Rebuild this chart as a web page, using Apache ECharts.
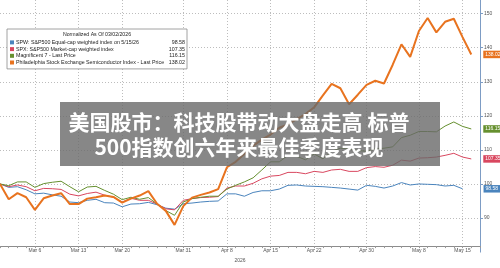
<!DOCTYPE html>
<html>
<head>
<meta charset="utf-8">
<script src="https://cdn.jsdelivr.net/npm/echarts@6/dist/echarts.min.js"></script>
<style>html,body{margin:0;padding:0;background:#fff}#c{width:500px;height:268px}</style>
</head>
<body>
<div id="c"></div>
<script>
// Trading days (index 55 is an empty pad slot up to the right axis)
const categories = [
  'Mar 2','Mar 3','Mar 4','Mar 5','Mar 6','Mar 9','Mar 10','Mar 11','Mar 12','Mar 13',
  'Mar 16','Mar 17','Mar 18','Mar 19','Mar 20','Mar 23','Mar 24','Mar 25','Mar 26','Mar 27',
  'Mar 30','Mar 31','Apr 1','Apr 2','Apr 6','Apr 7','Apr 8','Apr 9','Apr 10','Apr 13',
  'Apr 14','Apr 15','Apr 16','Apr 17','Apr 20','Apr 21','Apr 22','Apr 23','Apr 24','Apr 27',
  'Apr 28','Apr 29','Apr 30','May 1','May 4','May 5','May 6','May 7','May 8','May 11',
  'May 12','May 13','May 14','May 15','May 18',''
];
const tickLabels = ['Mar 6','Mar 13','Mar 20','Mar 31','Apr 8','Apr 15','Apr 22','Apr 30','May 8','May 15'];
const yTicks = [90,100,110,120,130,140,150];

const seriesNames = [
  'SPW: S&P500 Equal-cap weighted index on 5/15/26',
  'SPX: S&P500 Market-cap weighted index',
  'Magnificent 7 - Last Price',
  'Philadelphia Stock Exchange Semiconductor Index - Last Price'
];
const equalWeight = [100,99.0,99.2,98.3,97.1,97.3,96.8,96.4,94.7,94.5,
  95.2,95.5,94.5,94.4,93.3,94.1,94.2,94.6,93.9,92.9,
  92.6,94.2,94.4,94.7,94.9,95.0,97.1,97.1,96.4,97.5,
  98.0,98.0,98.5,99.6,99.7,99.4,99.3,99.2,99.0,98.8,
  98.5,98.2,99.6,99.3,98.8,99.4,100.4,99.7,100.0,99.9,
  99.8,99.4,99.6,98.58];
const spx = [100,99.2,99.7,99.2,98.0,98.7,98.6,98.4,97.0,96.5,
  97.2,97.6,96.7,96.1,94.7,95.8,95.2,95.2,94.1,92.7,
  92.4,95.2,95.7,96.0,96.1,96.3,98.8,99.4,99.4,100.2,
  101.5,102.3,102.5,103.4,103.4,103.0,103.7,103.4,104.1,104.3,
  103.7,103.7,104.8,105.1,104.9,105.5,107.0,106.7,107.6,107.7,
  107.9,108.4,109.0,107.9,107.35];
const mag7 = [100,99.5,100.6,100.6,99.0,100.1,100.5,100.8,99.2,97.7,
  99.1,99.3,98.1,97.0,95.4,96.1,95.5,96.0,94.1,92.2,
  90.8,94.7,95.7,96.1,96.4,96.4,98.5,99.6,100.6,101.8,
  104.1,106.5,106.5,108.4,108.1,107.1,108.8,107.4,109.6,110.5,
  110.3,109.8,109.6,110.3,110.5,110.9,113.6,114.3,115.4,115.4,
  115.3,117.0,118.2,116.9,116.15];
const sox = [100,95.5,97.3,96.1,92.4,95.8,96.6,97.3,94.1,94.1,
  95.7,96.1,96.6,96.2,94.5,95.7,96.6,97.9,94.2,92.1,
  88.0,93.5,96.0,96.8,97.5,98.5,104.9,106.5,108.8,111.2,
  113.0,114.5,116.5,117.5,119.0,120.5,122.5,126.0,129.4,128.1,
  123.4,126.2,129.1,130.3,129.5,135.0,141.0,137.3,144.9,148.7,
  144.5,147.6,148.5,143.1,138.02];
const seriesData = [equalWeight, spx, mag7, sox];
const colors = ['#4a84bd', '#d9475f', '#66902f', '#e8731f'];
const widths = [1, 1, 1, 2];
const tagDistance = [21, 12, 12, 12];

const legendTitle = 'Normalized As Of 03/02/2026';
const overlayLines = ['美国股市：科技股带动大盘走高 标普', '500指数创六年来最佳季度表现'];

const lastVal = arr => arr[arr.length - 1];
const FONT = '"Liberation Sans", Arial, sans-serif';

const chart = echarts.init(document.getElementById('c'), null, {renderer: 'canvas'});
chart.setOption({
  animation: false,
  backgroundColor: '#fff',
  grid: {left: 0, right: 20, top: 0, bottom: 6, containLabel: false},
  title: {
    text: legendTitle, left: 97, top: 32, textAlign: 'center', z: 20, padding: 0,
    textStyle: {fontSize: 5.2, fontWeight: 'normal', color: '#222', fontFamily: FONT}
  },
  legend: {
    show: true, orient: 'vertical', left: 7, top: 29, z: 10,
    selectedMode: false,
    backgroundColor: '#fff', borderColor: '#8a8a8a', borderWidth: 0.8,
    padding: [10.5, 2, 3.5, 3],
    itemWidth: 4, itemHeight: 4, itemGap: 0.9, icon: 'rect',
    data: seriesNames,
    formatter: function (name) {
      const i = seriesNames.indexOf(name);
      return '{n|' + name + '}{v|' + lastVal(seriesData[i]).toFixed(2) + '}';
    },
    textStyle: {
      fontFamily: FONT, fontSize: 5.3, color: '#222', padding: [0, 0, 0, -3],
      rich: {
        n: {fontSize: 5.3, width: 151, height: 5.8, lineHeight: 5.8, fontFamily: FONT, color: '#222'},
        v: {fontSize: 5.3, width: 18, height: 5.8, align: 'right', lineHeight: 5.8, fontFamily: FONT, color: '#222'}
      }
    }
  },
  xAxis: {
    type: 'category', data: categories, boundaryGap: false, offset: -6,
    name: '2026', nameLocation: 'middle', nameGap: 7,
    nameTextStyle: {fontSize: 5, color: '#555', fontFamily: FONT},
    axisLine: {show: true, lineStyle: {color: '#8c8c8c', width: 1}},
    axisTick: {show: true, interval: 0, length: 2, lineStyle: {color: '#999'}},
    axisLabel: {
      fontSize: 5, color: '#555', fontFamily: FONT, margin: 2,
      interval: (i, v) => tickLabels.indexOf(v) >= 0
    },
    splitLine: {
      show: true, interval: (i, v) => tickLabels.indexOf(v) >= 0,
      lineStyle: {color: '#bdbdbd', type: [1, 2], width: 1}
    }
  },
  yAxis: {
    type: 'value', position: 'right', min: 80, max: 154, interval: 10,
    axisLine: {show: true, lineStyle: {color: '#7d9cc4', width: 1}},
    axisTick: {show: true, length: 3, lineStyle: {color: '#7d9cc4'}},
    axisLabel: {
      fontSize: 5, color: '#555', fontFamily: FONT, margin: 4,
      showMinLabel: false, showMaxLabel: false,
      formatter: v => (yTicks.indexOf(v) >= 0 ? String(v) : '')
    },
    splitLine: {
      show: true,
      lineStyle: {
        color: ['rgba(0,0,0,0)', '#bdbdbd', '#bdbdbd', '#bdbdbd', '#bdbdbd', '#bdbdbd', '#bdbdbd', '#bdbdbd', 'rgba(0,0,0,0)'],
        type: [1, 2], width: 1
      }
    }
  },
  series: seriesNames.map((name, i) => ({
    name: name, type: 'line', data: seriesData[i],
    showSymbol: false, symbol: 'none', clip: false,
    lineStyle: {color: colors[i], width: widths[i]},
    itemStyle: {color: colors[i]},
    z: 2 + i,
    endLabel: {
      show: true, distance: tagDistance[i],
      formatter: p => Number(p.value).toFixed(2),
      color: '#fff', backgroundColor: colors[i],
      fontSize: 5, fontFamily: FONT, padding: [1, 2, 0.5, 2], lineHeight: 6
    }
  })),
  graphic: [
    {
      type: 'rect', z: 100, silent: true,
      shape: {x: 60, y: 102, width: 380, height: 64},
      style: {fill: 'rgba(105,105,105,0.8)'}
    },
    {
      type: 'text', z: 101, silent: true, x: 239, y: 122,
      style: {text: overlayLines[0], fill: '#fff', font: 'bold 21px "Noto Sans CJK SC"', textAlign: 'center', textVerticalAlign: 'middle'}
    },
    {
      type: 'text', z: 101, silent: true, x: 239, y: 147,
      style: {text: overlayLines[1], fill: '#fff', font: 'bold 21px "Noto Sans CJK SC"', textAlign: 'center', textVerticalAlign: 'middle'}
    }
  ]
});
</script>
</body>
</html>
